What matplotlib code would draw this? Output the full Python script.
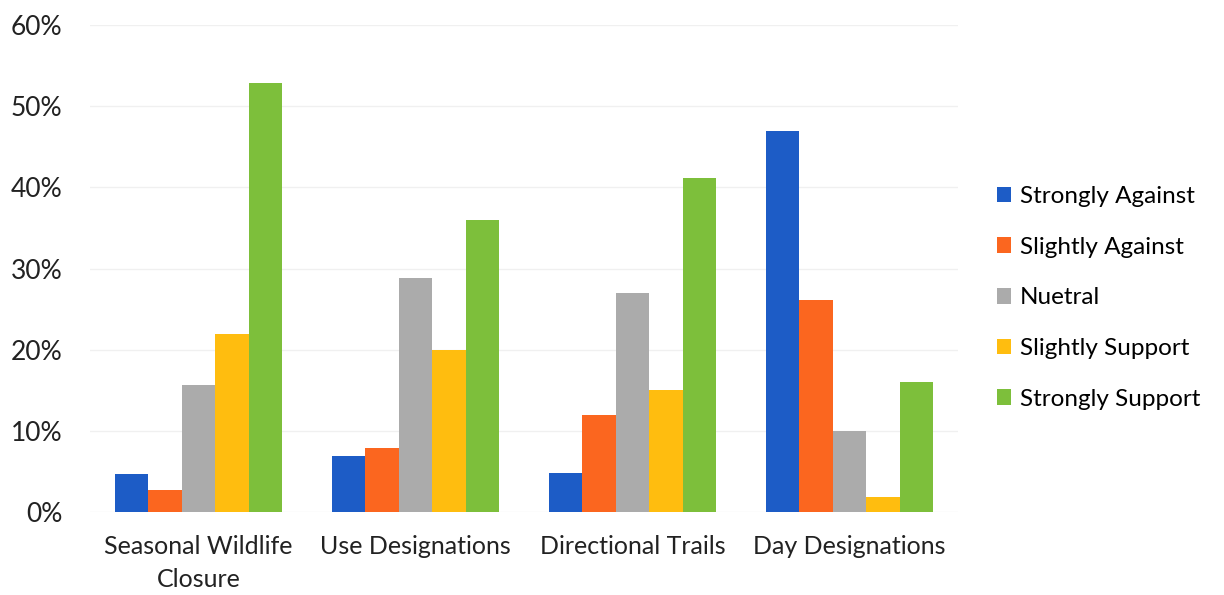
#!/usr/bin/env python
"""
trail survey responses, grouped bars
"""
import numpy as np
import matplotlib
matplotlib.use("Agg")
import matplotlib.pyplot as plt

categories = ["Seasonal Wildlife\nClosure", "Use Designations", "Directional Trails", "Day Designations"]
responses = ["Strongly Against", "Slightly Against", "Nuetral", "Slightly Support", "Strongly Support"]
strongly_against = [4.7, 6.9, 4.8, 47.0]
slightly_against = [2.7, 7.9, 12.0, 26.1]
nuetral = [15.7, 28.9, 27.0, 10.0]
slightly_support = [21.9, 20.0, 15.1, 1.9]
strongly_support = [52.9, 36.0, 41.1, 16.0]
yticks = [0, 10, 20, 30, 40, 50, 60]

colors = ["#1d5cc6", "#fb661f", "#ababab", "#ffbd0f", "#7dbf3b"]

plt.rcParams["font.family"] = ["Lato", "DejaVu Sans"]

def main():
    fig = plt.figure(figsize=(12.24, 5.95), dpi=100)
    ax = fig.add_axes([90 / 1224, 0.139, 868 / 1224, 0.819])
    series = [strongly_against, slightly_against, nuetral, slightly_support, strongly_support]
    x = np.arange(len(categories))
    w = 0.154
    for i, (vals, name) in enumerate(zip(series, responses)):
        ax.bar(x + (i - 2) * w, vals, w, color=colors[i], label=name, zorder=3)

    ax.set_ylim(0, 60)
    ax.set_xlim(-0.5, len(categories) - 0.5)
    ax.set_yticks(yticks)
    ax.set_yticklabels(["{}%".format(t) for t in yticks], fontsize=19, color="#222222")
    ax.set_xticks(x)
    ax.set_xticklabels(categories, fontsize=18, color="#222222", linespacing=1.55)
    ax.tick_params(axis="both", length=0)
    ax.tick_params(axis="y", pad=20)
    ax.tick_params(axis="x", pad=16)
    ax.yaxis.grid(True, color="#f0f0f0", linewidth=1, zorder=0)
    for s in ax.spines.values():
        s.set_visible(False)

    ax.legend(loc="center left", bbox_to_anchor=(1.0, 0.44), frameon=False,
              fontsize=17.5, handlelength=0.6, handleheight=0.6, handletextpad=0.35,
              labelspacing=1.22, borderaxespad=1.2)
    fig.savefig("out.png", dpi=100)
    plt.close(fig)

if __name__ == "__main__":
    main()
